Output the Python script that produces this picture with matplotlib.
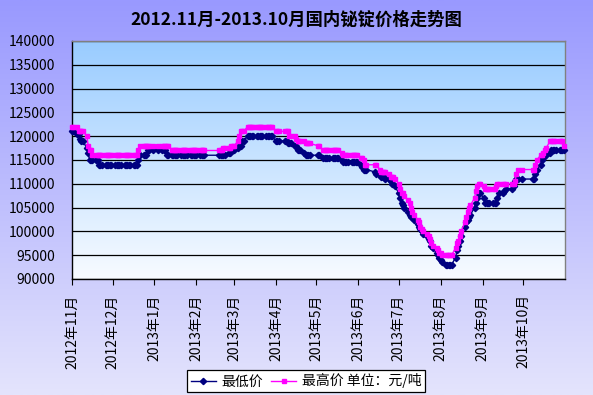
from datetime import date
import numpy as np
import matplotlib
matplotlib.use("Agg")
import matplotlib.pyplot as plt
import matplotlib.dates as mdates

plt.rcParams["font.family"] = ["Noto Sans CJK SC", "DejaVu Sans"]

# trading days per month (weekdays, Chinese holidays skipped)
months = [(2012, 11), (2012, 12), (2013, 1), (2013, 2), (2013, 3), (2013, 4),
          (2013, 5), (2013, 6), (2013, 7), (2013, 8), (2013, 9), (2013, 10)]
trade_days = [
    [1, 2, 5, 6, 7, 8, 9, 12, 13, 14, 15, 16, 19, 20, 21, 22, 23, 26, 27, 28, 29, 30],
    [3, 4, 5, 6, 7, 10, 11, 12, 13, 14, 17, 18, 19, 20, 21, 24, 25, 26, 27, 28, 31],
    [4, 7, 8, 9, 10, 11, 14, 15, 16, 17, 18, 21, 22, 23, 24, 25, 28, 29, 30, 31],
    [1, 4, 5, 6, 7, 18, 19, 20, 21, 22, 25, 26, 27, 28],
    [1, 4, 5, 6, 7, 8, 11, 12, 13, 14, 15, 18, 19, 20, 21, 22, 25, 26, 27, 28, 29],
    [1, 2, 3, 8, 9, 10, 11, 12, 15, 16, 17, 18, 19, 22, 23, 24, 25, 26],
    [2, 3, 6, 7, 8, 9, 10, 13, 14, 15, 16, 17, 20, 21, 22, 23, 24, 27, 28, 29, 30, 31],
    [3, 4, 5, 6, 7, 13, 14, 17, 18, 19, 20, 21, 24, 25, 26, 27, 28],
    [1, 2, 3, 4, 5, 8, 9, 10, 11, 12, 15, 16, 17, 18, 19, 22, 23, 24, 25, 26, 29, 30, 31],
    [1, 2, 5, 6, 7, 8, 9, 12, 13, 14, 15, 16, 19, 20, 21, 22, 23, 26, 27, 28, 29, 30],
    [2, 3, 4, 5, 6, 9, 10, 11, 12, 13, 16, 17, 18, 23, 24, 25, 26, 27, 30],
    [8, 9, 10, 11, 14, 15, 16, 17, 18, 21, 22, 23, 24, 25, 28, 29, 30, 31],
]

# 最低价 (yuan/ton), one line per month
low_price = [
    121000, 121000, 120500, 120500, 119500, 119000, 119000, 117500, 116500, 115000, 115000,
    115000, 115000, 115000, 114000, 114000, 114000, 114000, 114000, 114000, 114000, 114000,
    114000, 114000, 114000, 114000, 114000, 114000, 114000, 114000, 114000, 114000, 114000,
    114000, 114000, 115000, 116000, 116000, 116000, 116000, 117000, 117000, 117000,
    117000, 117000, 117000, 117000, 116000, 116000, 116000, 116000, 116000, 116000, 116000,
    116000, 116000, 116000, 116000, 116000, 116000, 116000, 116000, 116000,
    116000, 116000, 116000, 116000, 116000, 116000, 116000, 116000, 116000, 116000, 116500,
    116500, 117000, 117000,
    117000, 117500, 118000, 118000, 119000, 119000, 120000, 120000, 120000, 120000, 120000,
    120000, 120000, 120000, 120000, 120000, 120000, 120000, 120000, 120000, 120000,
    119000, 119000, 119000, 119000, 119000, 118500, 118500, 118500, 118000, 118000, 117000,
    117000, 117000, 116500, 116000, 116000, 116000, 116000,
    116000, 116000, 115500, 115500, 115500, 115500, 115500, 115500, 115500, 115500, 115500,
    115500, 115000, 114500, 114500, 114500, 114500, 114500, 114500, 114500, 114500, 114500,
    114000, 113500, 113000, 113000, 113000, 112500, 112000, 112000, 111500, 111500, 111500,
    111000, 111000, 110500, 110000, 110000, 109500,
    108000, 107000, 106000, 105500, 105000, 104000, 103500, 103000, 103000, 102500, 101500,
    101000, 100500, 100000, 99500, 99000, 98500, 98000, 97000, 96500, 95500, 95000, 94500,
    94000, 93500, 93000, 93000, 93000, 93000, 93000, 94500, 96000, 97000, 98000, 99000,
    101000, 102000, 102500, 103000, 103500, 105000, 106000, 107000, 108000, 108000,
    107000, 106000, 106000, 106000, 106000, 106000, 106000, 106000, 107000, 108000, 108000,
    108500, 109000, 109000, 109500, 110500, 111000, 111000, 111000,
    111000, 111000, 112000, 113000, 114000, 115000, 115500, 116000, 116000, 116500, 117000,
    117000, 117000, 117000, 117000, 117000, 117000, 117000,
]

# 最高价 (yuan/ton), one line per month
high_price = [
    122000, 122000, 122000, 121000, 121000, 121000, 121000, 120000, 118000, 117000, 117000,
    116000, 116000, 116000, 116000, 116000, 116000, 116000, 116000, 116000, 116000, 116000,
    116000, 116000, 116000, 116000, 116000, 116000, 116000, 116000, 116000, 116000, 116000,
    116000, 116000, 117000, 118000, 118000, 118000, 118000, 118000, 118000, 118000,
    118000, 118000, 118000, 118000, 118000, 118000, 117000, 117000, 117000, 117000, 117000,
    117000, 117000, 117000, 117000, 117000, 117000, 117000, 117000, 117000,
    117000, 117000, 117000, 117000, 117000, 117000, 117000, 117000, 117500, 117500, 117500,
    117500, 118000, 118000,
    118000, 119000, 120000, 121000, 121000, 121000, 122000, 122000, 122000, 122000, 122000,
    122000, 122000, 122000, 122000, 122000, 122000, 122000, 122000, 122000, 122000,
    121000, 121000, 121000, 121000, 121000, 121000, 120000, 120000, 120000, 119500, 119000,
    119000, 119000, 119000, 118500, 118500, 118500, 118500,
    118000, 118000, 117000, 117000, 117000, 117000, 117000, 117000, 117000, 117000, 117000,
    117000, 116500, 116000, 116000, 116000, 116000, 116000, 116000, 116000, 116000, 116000,
    115500, 115500, 115000, 114000, 114000, 114000, 114000, 113000, 112500, 112500, 112500,
    112500, 112000, 111500, 111500, 111500, 111000,
    110000, 109000, 108000, 108000, 107500, 106500, 106000, 105000, 104000, 103500, 102500,
    102000, 101000, 100500, 100000, 99500, 99000, 98500, 97500, 97000, 96500, 96000, 95500,
    95500, 95000, 95000, 95000, 95000, 95000, 95000, 96500, 97500, 98000, 99000, 100000,
    102000, 103000, 104000, 105000, 105500, 107000, 108500, 109500, 110000, 110000,
    109500, 109000, 109000, 109000, 109000, 109000, 109000, 109500, 110000, 110000, 110000,
    110000, 110000, 110000, 110000, 110500, 112000, 113000, 113000,
    113000, 113000, 114000, 115000, 116000, 116000, 116500, 117000, 117500, 119000, 119000,
    119000, 119000, 119000, 119000, 119000, 119000, 118000,
]

series_names = ["最低价", "最高价 单位：元/吨"]
y_ticks = [90000, 95000, 100000, 105000, 110000, 115000, 120000, 125000, 130000, 135000, 140000]
title = "2012.11月-2013.10月国内铋锭价格走势图"

dates = [date(y, m, d) for (y, m), days in zip(months, trade_days) for d in days]
assert len(dates) == len(low_price) == len(high_price)

W, H = 593, 395
fig = plt.figure(figsize=(W / 100, H / 100), dpi=100)

# figure background gradient (lavender)
bg = fig.add_axes([0, 0, 1, 1], zorder=-10)
bg.axis("off")
top_c = np.array([153, 153, 255]) / 255
bot_c = np.array([228, 228, 252]) / 255
t = np.linspace(0, 1, 256)[:, None]
grad = (top_c * (1 - t) + bot_c * t)[:, None, :]
bg.imshow(grad, aspect="auto", extent=[0, 1, 0, 1])

# plot area
l, r, top, bot = 72, 565, 41, 279
rect = [l / W, 1 - bot / H, (r - l) / W, (bot - top) / H]

pbg = fig.add_axes(rect, zorder=-5)
pbg.axis("off")
p_top = np.array([153, 204, 255]) / 255
p_bot = np.array([248, 251, 255]) / 255
pgrad = (p_top * (1 - t) + p_bot * t)[:, None, :]
pbg.imshow(pgrad, aspect="auto", extent=[0, 1, 0, 1])

ax = fig.add_axes(rect)
ax.set_facecolor("none")

ax.plot(dates, low_price, color="#000080", marker="D", markersize=3.2,
        linewidth=1.0, label=series_names[0], clip_on=False, zorder=3)
ax.plot(dates, high_price, color="#FF00FF", marker="s", markersize=3.0,
        linewidth=1.0, label=series_names[1], clip_on=False, zorder=4)

ax.set_xlim(date(2012, 11, 1), date(2013, 11, 1))
ax.set_ylim(90000, 140000)
ax.set_yticks(y_ticks)
ax.set_yticklabels([str(v) for v in y_ticks], fontsize=10)
ax.yaxis.grid(True, color="black", linewidth=0.9)
ax.set_axisbelow(True)

month_ticks = [date(y, m, 1) for (y, m) in months]
ax.set_xticks(month_ticks)
ax.set_xticklabels([f"{y}年{m}月" for (y, m) in months], rotation=90, fontsize=10)
ax.tick_params(axis="x", direction="out", length=4, pad=7, color="black")
ax.tick_params(axis="y", direction="out", length=0, pad=12)

for s in ["left", "bottom"]:
    ax.spines[s].set_color("black")
    ax.spines[s].set_linewidth(1.0)
for s in ["top", "right"]:
    ax.spines[s].set_color("#808080")
    ax.spines[s].set_linewidth(1.0)

fig.text(0.5, 1 - 20 / H, title, ha="center", va="center", fontsize=12.5, weight="bold")

leg = fig.legend(loc="center", bbox_to_anchor=(306 / W, 1 - 381 / H), ncol=2,
                 fontsize=10, frameon=True, fancybox=False, edgecolor="black",
                 framealpha=1, handlelength=1.8, columnspacing=0.6, handletextpad=0.4,
                 borderpad=0.25, borderaxespad=0, markerscale=1.0)
leg.get_frame().set_linewidth(0.9)

fig.savefig("out.png", dpi=100)
